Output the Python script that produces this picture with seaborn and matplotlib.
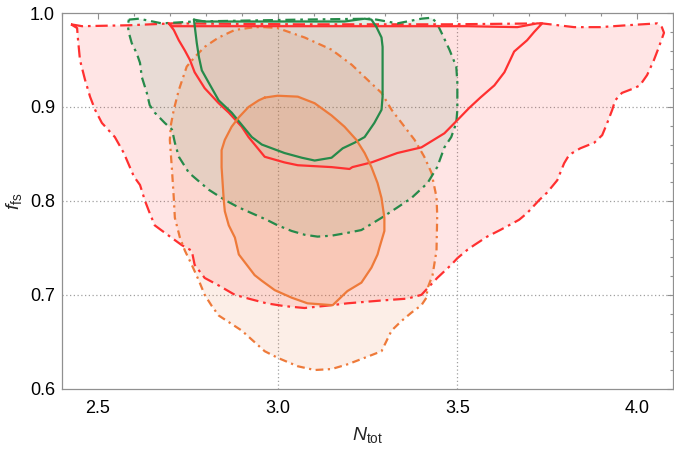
import numpy as np
import pandas as pd
import matplotlib
matplotlib.use("Agg")
import matplotlib.pyplot as plt
import matplotlib.ticker as ticker
import seaborn as sns

# contour outlines (N_tot, f_fs)
red_outer_x = [2.425, 2.456, 2.586, 2.706, 3.061, 3.478, 3.736, 3.825, 3.897, 3.972, 4.056, 4.069, 4.075,
               4.061, 4.047, 4.028, 4.008, 3.992, 3.958, 3.939, 3.931, 3.917, 3.903, 3.881, 3.842, 3.811,
               3.797, 3.778, 3.750, 3.728, 3.694, 3.672, 3.658, 3.619, 3.583, 3.547, 3.528, 3.500, 3.483,
               3.444, 3.417, 3.400, 3.361, 3.289, 3.194, 3.150, 3.075, 3.019, 2.969, 2.919, 2.881, 2.836,
               2.797, 2.769, 2.761, 2.733, 2.697, 2.658, 2.642, 2.631, 2.617, 2.600, 2.572, 2.547, 2.511,
               2.492, 2.478, 2.464, 2.450, 2.444, 2.442]
red_outer_y = [0.988, 0.986, 0.987, 0.989, 0.988, 0.988, 0.989, 0.985, 0.985, 0.987, 0.989, 0.985, 0.979,
               0.964, 0.950, 0.934, 0.923, 0.920, 0.915, 0.907, 0.897, 0.883, 0.870, 0.862, 0.856, 0.849,
               0.840, 0.822, 0.809, 0.801, 0.787, 0.780, 0.777, 0.769, 0.762, 0.753, 0.748, 0.739, 0.732,
               0.718, 0.707, 0.700, 0.696, 0.694, 0.691, 0.689, 0.686, 0.688, 0.691, 0.696, 0.700, 0.710,
               0.718, 0.732, 0.747, 0.753, 0.763, 0.774, 0.789, 0.800, 0.817, 0.826, 0.851, 0.868, 0.883,
               0.897, 0.911, 0.929, 0.950, 0.974, 0.984]

red_inner_x = [2.697, 2.706, 3.061, 3.528, 3.667, 3.722, 3.736, 3.714, 3.694, 3.658, 3.647, 3.631, 3.603,
               3.564, 3.533, 3.500, 3.464, 3.400, 3.333, 3.261, 3.208, 3.200, 3.150, 3.056, 3.019, 2.964,
               2.919, 2.900, 2.864, 2.836, 2.797, 2.769, 2.756, 2.742, 2.725, 2.711]
red_inner_y = [0.989, 0.986, 0.986, 0.986, 0.985, 0.989, 0.989, 0.980, 0.971, 0.959, 0.950, 0.937, 0.923,
               0.910, 0.899, 0.886, 0.872, 0.857, 0.851, 0.841, 0.836, 0.834, 0.836, 0.838, 0.841, 0.847,
               0.868, 0.879, 0.894, 0.904, 0.920, 0.937, 0.950, 0.960, 0.971, 0.982]

green_outer_x = [2.586, 2.614, 2.678, 2.767, 3.061, 3.261, 3.333, 3.400, 3.428, 3.442, 3.456, 3.478, 3.497,
                 3.500, 3.500, 3.497, 3.483, 3.464, 3.444, 3.417, 3.372, 3.333, 3.289, 3.233, 3.194, 3.150,
                 3.111, 3.075, 3.039, 3.000, 2.969, 2.892, 2.853, 2.808, 2.753, 2.725, 2.714, 2.706, 2.686,
                 2.658, 2.644, 2.636, 2.622, 2.617, 2.608, 2.594, 2.586, 2.583]
green_outer_y = [0.993, 0.994, 0.989, 0.991, 0.993, 0.994, 0.989, 0.994, 0.995, 0.990, 0.979, 0.961, 0.943,
                 0.926, 0.897, 0.883, 0.868, 0.857, 0.836, 0.819, 0.803, 0.793, 0.782, 0.769, 0.766, 0.763,
                 0.762, 0.764, 0.768, 0.774, 0.780, 0.793, 0.801, 0.812, 0.830, 0.847, 0.862, 0.876, 0.883,
                 0.894, 0.902, 0.915, 0.932, 0.947, 0.957, 0.968, 0.979, 0.987]

green_inner_x = [2.767, 2.769, 2.775, 2.781, 2.789, 2.808, 2.836, 2.872, 2.900, 2.928, 2.956, 3.019, 3.067,
                 3.103, 3.150, 3.181, 3.214, 3.242, 3.269, 3.289, 3.292, 3.292, 3.292, 3.289, 3.275, 3.261,
                 3.242, 3.186, 3.056, 2.797]
green_inner_y = [0.993, 0.987, 0.968, 0.953, 0.939, 0.926, 0.907, 0.894, 0.881, 0.868, 0.860, 0.851, 0.846,
                 0.843, 0.846, 0.856, 0.862, 0.868, 0.883, 0.897, 0.911, 0.932, 0.964, 0.974, 0.985, 0.993,
                 0.994, 0.991, 0.991, 0.991]

orange_outer_x = [2.964, 3.000, 3.075, 3.150, 3.206, 3.250, 3.289, 3.317, 3.353, 3.381, 3.408, 3.428, 3.442,
                  3.444, 3.442, 3.431, 3.417, 3.414, 3.400, 3.372, 3.344, 3.317, 3.289, 3.242, 3.194, 3.150,
                  3.103, 3.056, 3.000, 2.964, 2.900, 2.836, 2.817, 2.797, 2.781, 2.761, 2.742, 2.728, 2.714,
                  2.711, 2.706, 2.700, 2.703, 2.711, 2.725, 2.747, 2.769, 2.797, 2.836, 2.881, 2.936]
orange_outer_y = [0.985, 0.984, 0.974, 0.961, 0.945, 0.929, 0.915, 0.897, 0.879, 0.865, 0.847, 0.830, 0.804,
                  0.785, 0.747, 0.721, 0.707, 0.697, 0.689, 0.681, 0.672, 0.662, 0.640, 0.633, 0.626, 0.621,
                  0.620, 0.624, 0.633, 0.640, 0.662, 0.678, 0.688, 0.700, 0.715, 0.732, 0.747, 0.761, 0.782,
                  0.803, 0.833, 0.865, 0.881, 0.897, 0.918, 0.943, 0.953, 0.964, 0.974, 0.982, 0.985]

orange_inner_x = [2.964, 3.000, 3.056, 3.103, 3.150, 3.186, 3.219, 3.242, 3.261, 3.278, 3.289, 3.297, 3.297,
                  3.283, 3.278, 3.261, 3.233, 3.194, 3.153, 3.083, 3.039, 2.992, 2.956, 2.936, 2.892, 2.881,
                  2.864, 2.853, 2.850, 2.844, 2.844, 2.853, 2.872, 2.892, 2.919, 2.947]
orange_inner_y = [0.910, 0.912, 0.911, 0.904, 0.891, 0.879, 0.865, 0.851, 0.836, 0.819, 0.803, 0.782, 0.768,
                  0.750, 0.743, 0.729, 0.713, 0.704, 0.689, 0.691, 0.697, 0.705, 0.715, 0.721, 0.743, 0.761,
                  0.774, 0.789, 0.801, 0.836, 0.854, 0.865, 0.879, 0.889, 0.900, 0.907]

grid_x = [3.0, 3.5]
grid_y = [0.7, 0.8, 0.9]

RED = "#ff3030"
GREEN = "#268a4a"
ORANGE = "#ee7a3a"

sns.set_style("white")
plt.rcParams["font.family"] = ["Liberation Sans", "DejaVu Sans"]
plt.rcParams["mathtext.fontset"] = "custom"
plt.rcParams["mathtext.rm"] = "Liberation Sans"
plt.rcParams["mathtext.it"] = "Liberation Sans:italic"

fig = plt.figure(figsize=(6.74, 4.5), dpi=100)
ax = fig.add_axes([0.092, 0.136, 0.9065, 0.835])

contours = [
    (red_outer_x, red_outer_y, RED, (0, (5.5, 2.2, 1.2, 2.2)), 0.12),
    (orange_outer_x, orange_outer_y, ORANGE, (0, (3.5, 2.0, 1.0, 2.0)), 0.12),
    (green_outer_x, green_outer_y, GREEN, (0, (4.5, 2.2, 1.2, 2.2)), 0.10),
    (red_inner_x, red_inner_y, RED, "-", 0.02),
    (green_inner_x, green_inner_y, GREEN, "-", 0.03),
    (orange_inner_x, orange_inner_y, ORANGE, "-", 0.16),
]

for xs, ys, color, ls, alpha in contours:
    ax.fill(xs, ys, color=color, alpha=alpha, lw=0)

for xs, ys, color, ls, alpha in contours:
    df = pd.DataFrame({"x": xs + xs[:1], "y": ys + ys[:1]})
    sns.lineplot(data=df, x="x", y="y", sort=False, estimator=None, color=color,
                 linestyle=ls, lw=1.6, ax=ax, solid_joinstyle="round")

for gx in grid_x:
    ax.axvline(gx, color="#a0a0a0", lw=0.9, ls=(0, (1, 2)), zorder=0.5)
for gy in grid_y:
    ax.axhline(gy, color="#a0a0a0", lw=0.9, ls=(0, (1, 2)), zorder=0.5)

ax.set_xlim(2.4, 4.1)
ax.set_ylim(0.6, 1.0)
ax.xaxis.set_major_locator(ticker.MultipleLocator(0.5))
ax.xaxis.set_minor_locator(ticker.MultipleLocator(0.1))
ax.yaxis.set_major_locator(ticker.MultipleLocator(0.1))
ax.yaxis.set_minor_locator(ticker.MultipleLocator(0.02))
ax.xaxis.set_major_formatter(ticker.FormatStrFormatter("%.1f"))
ax.yaxis.set_major_formatter(ticker.FormatStrFormatter("%.1f"))

ax.tick_params(which="both", direction="in", top=True, right=True, color="#909090", width=0.8)
ax.tick_params(which="major", length=4.5, labelsize=13, labelcolor="black")
ax.tick_params(which="minor", length=2.5)
ax.tick_params(axis="x", which="major", pad=8)
ax.tick_params(axis="y", which="major", pad=5)

for sp in ax.spines.values():
    sp.set_color("#909090")
    sp.set_linewidth(0.9)

ax.set_xlabel(r"$N_{\rm tot}$", fontsize=14, labelpad=6)
ax.set_ylabel(r"$f_{\rm fs}$", fontsize=14, labelpad=4)
ax.grid(False)

fig.savefig("out.png", dpi=100)
